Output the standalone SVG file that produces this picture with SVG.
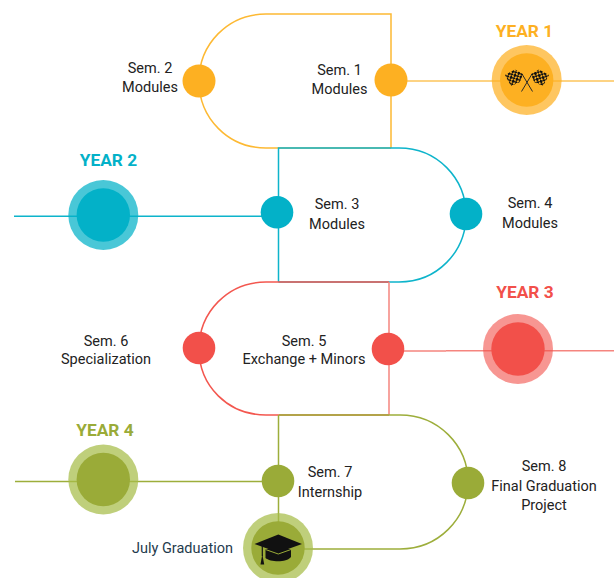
<svg xmlns="http://www.w3.org/2000/svg" width="614" height="578" viewBox="0 0 614 578">
<defs>
<pattern id="checkL" width="4.4" height="4.4" patternUnits="userSpaceOnUse" patternTransform="rotate(-28 514 78)">
<rect width="2.700" height="2.700" fill="#111"/><rect x="2.200" y="2.200" width="2.700" height="2.700" fill="#111"/>
</pattern>
<pattern id="checkR" width="4.4" height="4.4" patternUnits="userSpaceOnUse" patternTransform="rotate(28 540 78)">
<rect width="2.700" height="2.700" fill="#111"/><rect x="2.200" y="2.200" width="2.700" height="2.700" fill="#111"/>
</pattern>
</defs>
<style>
text{font-family:Roboto,"Liberation Sans",sans-serif;font-size:14.5px;fill:#222;text-anchor:middle}
.y{font-size:17.3px;font-weight:700}
.l{fill:none;stroke-width:1.5}
.o{stroke:#fdb933}.ol{stroke:#fcc55a}.b{stroke:#0db4cb}.r{stroke:#f3574f}.rl{stroke:#f5857f}.g{stroke:#9dae3b}
.ring{fill-opacity:.72}
</style>
<rect width="614" height="578" fill="#fff"/>
<g id="connectors">
<path class="l o" d="M391 148V14H266C228 14 199 44 199 81C199 118 228 148 266 148H391"/>
<path class="l ol" d="M391 81H614"/>
<path class="l b" d="M278.500 282V148H399C437 148 466 178 466 215C466 252 437 282 399 282H278.500"/>
<path class="l b" d="M14 216.300H277"/>
<path class="l r" d="M389 282H266C228 282 199 312 199 349C199 386 228 415 266 415H389"/>
<path class="l rl" d="M389 282V415M388 351H446M446 350.700H614"/>
<path class="l g" d="M279 415H400C438 415 468 445 468 482C468 519 438 549 400 549H278"/>
<path class="l g" d="M278.500 415V525M15 481.500H262"/>
</g>
<g id="sem1"><circle cx="391" cy="80" r="16.500" fill="#fdb022"/><text x="339.500" y="75">Sem. 1</text><text x="339.500" y="94">Modules</text></g>
<g id="sem2"><circle cx="199" cy="81" r="16.500" fill="#fdb022"/><text x="150" y="73">Sem. 2</text><text x="150" y="92">Modules</text></g>
<g id="sem3"><circle cx="277" cy="212.300" r="16.300" fill="#03b1c8"/><text x="337" y="209">Sem. 3</text><text x="337" y="229">Modules</text></g>
<g id="sem4"><circle cx="466" cy="214" r="16.300" fill="#03b1c8"/><text x="530" y="208">Sem. 4</text><text x="530" y="228">Modules</text></g>
<g id="sem5"><circle cx="388" cy="349" r="16.300" fill="#f2504a"/><text x="304" y="346">Sem. 5</text><text x="304" y="364">Exchange + Minors</text></g>
<g id="sem6"><circle cx="199" cy="348" r="16.300" fill="#f2504a"/><text x="106" y="346">Sem. 6</text><text x="106" y="364">Specialization</text></g>
<g id="sem7"><circle cx="278" cy="481" r="16.300" fill="#9aab38"/><text x="330" y="477">Sem. 7</text><text x="330" y="497">Internship</text></g>
<g id="sem8"><circle cx="468" cy="483" r="16.300" fill="#9aab38"/><text x="544" y="471">Sem. 8</text><text x="544" y="491">Final Graduation</text><text x="544" y="510">Project</text></g>
<g id="year1"><circle class="ring" cx="526.700" cy="80" r="35" fill="#fdb022"/><circle cx="526.700" cy="80" r="26.700" fill="#fdb022"/><text class="y" x="524.500" y="37" style="fill:#fdb022">YEAR 1</text>
<path d="M532.500 91.500L522 74M521.500 91.500L532 74" fill="none" stroke="#2a2a2a" stroke-width="1"/>
<path d="M505 75L515 69.500L523 74L520 82L511 86Z" fill="url(#checkL)"/>
<path d="M549 75L539 69.500L531 74L534 82L543 86Z" fill="url(#checkR)"/>
</g>
<g id="year2"><circle class="ring" cx="103.300" cy="215" r="35" fill="#03b1c8"/><circle cx="103.300" cy="215" r="26.700" fill="#03b1c8"/><text class="y" x="108.500" y="166" style="fill:#03b1c8">YEAR 2</text></g>
<g id="year3"><circle class="ring" cx="518" cy="349" r="35" fill="#f2504a" fill-opacity=".6" style="fill-opacity:.6"/><circle cx="518" cy="349" r="26.700" fill="#f2504a"/><text class="y" x="525" y="298" style="fill:#f2504a">YEAR 3</text></g>
<g id="year4"><circle class="ring" cx="103.300" cy="479.500" r="35" fill="#a6bd48"/><circle cx="103.300" cy="479.500" r="26.700" fill="#9aab38"/><text class="y" x="105" y="436" style="fill:#9aab38">YEAR 4</text></g>
<g id="graduation"><circle class="ring" cx="278" cy="548" r="35" fill="#a6bd48"/><circle cx="278" cy="548" r="26.700" fill="#9aab38"/>
<path d="M265.500 549V558C270 562 286 563 291 557V549Z" fill="#111"/>
<path d="M265.500 549.500L278.300 554L291 549.500" fill="none" stroke="#9aab38" stroke-width="1"/>
<path d="M254.500 544L278.300 534.500L302 544L278.300 552.500Z" fill="#111"/>
<path d="M262.300 546V556" stroke="#111" stroke-width="1.200"/><path d="M260.500 564.500L262.300 554L264.200 564.500Z" fill="#111"/>
<text x="182.500" y="553" style="fill:#1f3b4d">July Graduation</text></g>
</svg>
